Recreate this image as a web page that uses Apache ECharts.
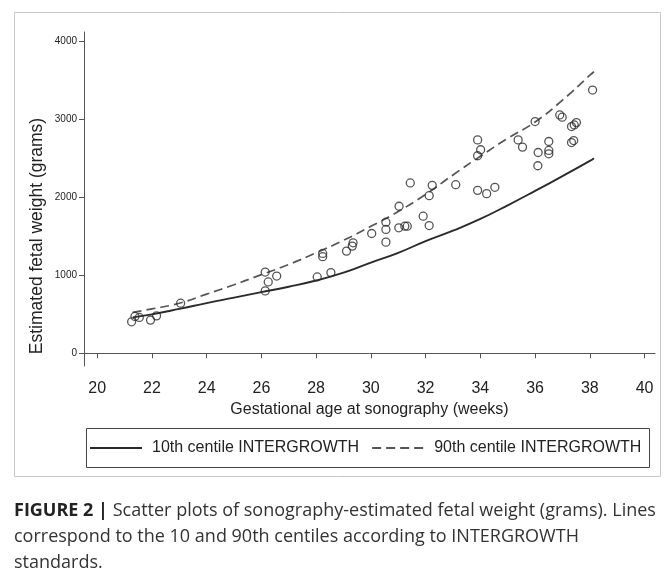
<!DOCTYPE html>
<html>
<head>
<meta charset="utf-8">
<script src="https://cdn.jsdelivr.net/npm/echarts@6/dist/echarts.min.js"></script>
<style>
  html, body { margin: 0; padding: 0; background: #fff; }
  #chart { width: 672px; height: 575px; }
</style>
</head>
<body>
<div id="chart"></div>
<script>
// observed fetal weights
var ageWeeks = [21.26, 21.38, 21.54, 21.95, 22.17, 23.05, 26.14, 26.14, 26.25, 26.56,
  28.04, 28.24, 28.24, 28.54, 29.11, 29.35, 29.32, 30.03, 30.55, 30.55, 30.55,
  31.03, 31.02, 31.24, 31.33, 31.44, 31.91, 32.13, 32.24, 32.13, 33.10,
  33.90, 34.01, 33.90, 33.90, 34.23, 34.53, 35.38, 35.54, 36.00, 36.11, 36.10,
  36.50, 36.50, 36.50, 36.90, 36.99, 37.33, 37.43, 37.51, 37.33, 37.41, 38.10];
var efwGrams = [404, 473, 460, 426, 481, 643, 1043, 801, 916, 992,
  980, 1282, 1240, 1036, 1312, 1419, 1376, 1538, 1683, 1590, 1427,
  1888, 1611, 1632, 1632, 2187, 1760, 2024, 2156, 1640, 2165,
  2740, 2613, 2536, 2092, 2050, 2131, 2740, 2647, 2975, 2578, 2408,
  2719, 2604, 2561, 3060, 3031, 2911, 2932, 2962, 2706, 2731, 3380];

// INTERGROWTH centile curves
var centileWeeks = [21.3, 22, 23, 24, 25, 26, 27, 28, 29, 30, 31, 32, 33, 34, 35, 36, 37, 38, 38.15];
var p10Grams = [462, 500, 570, 645, 715, 785, 855, 935, 1035, 1165, 1290, 1440, 1575, 1725, 1900, 2085, 2275, 2470, 2505];
var p90Grams = [525, 570, 643, 760, 880, 1010, 1140, 1290, 1450, 1630, 1820, 2040, 2290, 2530, 2760, 2970, 3250, 3570, 3615];

var xTicks = [20, 22, 24, 26, 28, 30, 32, 34, 36, 38, 40];
var yTicks = [0, 1000, 2000, 3000, 4000];

var font = 'Liberation Sans';
var captionFont = 'Open Sans';

function pairs(xs, ys) {
  return xs.map(function (x, i) { return [x, ys[i]]; });
}

var myChart = echarts.init(document.getElementById('chart'));
var option = {
  animation: false,
  grid: { left: 84, right: 17, top: 32, bottom: 209 },
  xAxis: {
    type: 'value',
    min: 19.52,
    max: 40.38,
    name: 'Gestational age at sonography (weeks)',
    nameLocation: 'middle',
    nameGap: 35,
    nameTextStyle: { fontSize: 16, color: '#222', fontFamily: font },
    splitLine: { show: false },
    axisLine: { lineStyle: { color: '#555', width: 1 } },
    axisTick: { customValues: xTicks, length: 5, lineStyle: { color: '#555' } },
    axisLabel: { customValues: xTicks, fontSize: 16, color: '#222', fontFamily: font, margin: 15 }
  },
  yAxis: {
    type: 'value',
    min: -163,
    max: 4125,
    splitLine: { show: false },
    axisLine: { show: true, lineStyle: { color: '#555', width: 1 } },
    axisTick: { show: true, customValues: yTicks, length: 5, lineStyle: { color: '#555' } },
    axisLabel: {
      customValues: yTicks, fontSize: 10, color: '#222', fontFamily: font, margin: 7,
      formatter: function (v) { return String(v); }
    }
  },
  legend: {
    left: 84,
    top: 435,
    itemWidth: 52,
    itemHeight: 14,
    itemGap: 12,
    data: ['10th centile INTERGROWTH', '90th centile INTERGROWTH'],
    itemStyle: { color: 'rgba(0,0,0,0)', borderWidth: 0, opacity: 0 },
    textStyle: { fontSize: 16, color: '#222', fontFamily: font, padding: [0, 0, 0, 5] }
  },
  graphic: [
    {
      type: 'rect', silent: true,
      shape: { x: 14.5, y: 12.5, width: 646, height: 464 },
      style: { fill: 'none', stroke: '#c8c8c8', lineWidth: 1 }
    },
    {
      type: 'rect', silent: true,
      shape: { x: 86.5, y: 428.5, width: 563, height: 39 },
      style: { fill: 'none', stroke: '#444', lineWidth: 1 }
    },
    {
      type: 'text', silent: true,
      x: 37, y: 236, rotation: Math.PI / 2,
      style: {
        text: 'Estimated fetal weight (grams)',
        fontSize: 17.5, fontFamily: font, fill: '#222',
        align: 'center', verticalAlign: 'middle'
      }
    },
    {
      type: 'text', silent: true,
      x: 14, y: 498,
      style: {
        text: '{b|FIGURE 2 |}{n| Scatter plots of sonography-estimated fetal weight (grams). Lines}\n' +
              '{n|correspond to the 10 and 90th centiles according to INTERGROWTH}\n' +
              '{n|standards.}',
        rich: {
          b: { fontSize: 18, fontWeight: 'bold', fontFamily: captionFont, fill: '#222', lineHeight: 26 },
          n: { fontSize: 18, fontFamily: captionFont, fill: '#333', lineHeight: 26 }
        }
      }
    }
  ],
  series: [
    {
      name: 'EFW',
      type: 'scatter',
      symbol: 'circle',
      symbolSize: 8,
      itemStyle: { color: 'rgba(0,0,0,0)', borderColor: '#2a2a2a', borderWidth: 1.3 },
      data: pairs(ageWeeks, efwGrams),
      z: 3
    },
    {
      name: '10th centile INTERGROWTH',
      type: 'line',
      smooth: true,
      symbol: 'none',
      lineStyle: { color: '#2a2a2a', width: 1.9, type: 'solid' },
      itemStyle: { color: 'rgba(0,0,0,0)' },
      data: pairs(centileWeeks, p10Grams)
    },
    {
      name: '90th centile INTERGROWTH',
      type: 'line',
      smooth: true,
      symbol: 'none',
      lineStyle: { color: '#555', width: 1.7, type: [9, 5] },
      itemStyle: { color: 'rgba(0,0,0,0)' },
      data: pairs(centileWeeks, p90Grams)
    }
  ]
};

myChart.setOption(option);
window.addEventListener('resize', function () {
  myChart.resize();
});
</script>
</body>
</html>
